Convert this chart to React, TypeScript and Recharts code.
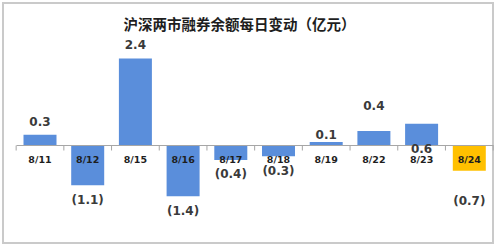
import React from 'react';
import { BarChart, Bar, XAxis, YAxis, ReferenceLine, LabelList, Cell } from 'recharts';

const dates = ['8/11', '8/12', '8/15', '8/16', '8/17', '8/18', '8/19', '8/22', '8/23', '8/24'];
const values = [0.3, -1.1, 2.4, -1.4, -0.4, -0.3, 0.1, 0.4, 0.6, -0.7];
const highlightDate = '8/24';
const title = '沪深两市融券余额每日变动（亿元）';

const data = dates.map((date, i) => ({ date, value: values[i] }));

// layout / style constants
const W = 496;
const H = 246;
const MARGIN = { top: 55, right: 2.5, bottom: 46.2, left: 16.5 };
const PLOT_W = W - MARGIN.left - MARGIN.right;
const BAND = PLOT_W / dates.length;
const BLUE = '#5a8edb';
const GOLD = '#ffc000';
const AXIS = '#a6a6a6';
// label placement tweaks reproducing the reference's data-label positions
const labelNudge = [0, 1, -1, 1, 0, 1, 5, -12.5, 38, 16];

const fmt = (v: number) => (v < 0 ? `(${Math.abs(v).toFixed(1)})` : v.toFixed(1));

const ValueLabel = (props: any) => {
  const { x, y, width, height, index } = props;
  const v = values[index];
  const top = Math.min(y, y + height);
  const bottom = Math.max(y, y + height);
  const cy = (v >= 0 ? top - 12.5 : bottom + 13.5) + labelNudge[index];
  return (
    <text
      x={x + width / 2}
      y={cy}
      dy="0.35em"
      textAnchor="middle"
      fontFamily="DejaVu Sans"
      fontWeight="bold"
      fontSize={12}
      fill="#3a3a3a"
    >
      {fmt(v)}
    </text>
  );
};

const DateLabel = (props: any) => {
  const { x, y, width, height, index } = props;
  const v = values[index];
  const top = Math.min(y, y + height);
  const bottom = Math.max(y, y + height);
  const zero = v >= 0 ? bottom : top;
  const gapHalf = (BAND - width) / 2;
  const left = x - gapHalf;
  const right = x + width + gapHalf;
  return (
    <g>
      <line x1={left} x2={left} y1={zero} y2={zero + 5} stroke={AXIS} strokeWidth={1} />
      {index === dates.length - 1 && (
        <line x1={right} x2={right} y1={zero} y2={zero + 5} stroke={AXIS} strokeWidth={1} />
      )}
      <text
        x={x + width / 2}
        y={zero + 14.5}
        dy="0.35em"
        textAnchor="middle"
        fontFamily="DejaVu Sans"
        fontWeight="bold"
        fontSize={9.5}
        fill="#1e1e1e"
      >
        {dates[index]}
      </text>
    </g>
  );
};

export default function App() {
  return (
    <div style={{ position: 'absolute', left: 0, top: 0, width: W, height: H, background: '#fff' }}>
      <div
        style={{
          position: 'absolute',
          left: 2,
          top: 2,
          width: 492,
          height: 242,
          boxSizing: 'border-box',
          border: '2px solid #cacaca',
        }}
      />
      <div
        style={{
          position: 'absolute',
          left: 0,
          top: 14,
          width: 479,
          textAlign: 'center',
          lineHeight: '20px',
          fontSize: 14.5,
          fontWeight: 'bold',
          fontFamily: '"Noto Sans CJK SC", sans-serif',
          color: '#1e1e1e',
          whiteSpace: 'nowrap',
        }}
      >
        {title}
      </div>
      <div style={{ position: 'absolute', left: 0, top: 0 }}>
        <BarChart width={W} height={H} data={data} margin={MARGIN}>
          <XAxis dataKey="date" hide />
          <YAxis domain={[-1.5, 2.5]} hide />
          <ReferenceLine y={0} stroke={AXIS} strokeWidth={1} />
          <Bar dataKey="value" barSize={33} isAnimationActive={false}>
            {data.map((d) => (
              <Cell key={d.date} fill={d.date === highlightDate ? GOLD : BLUE} />
            ))}
            <LabelList dataKey="date" content={DateLabel} />
            <LabelList dataKey="value" content={ValueLabel} />
          </Bar>
        </BarChart>
      </div>
    </div>
  );
}
